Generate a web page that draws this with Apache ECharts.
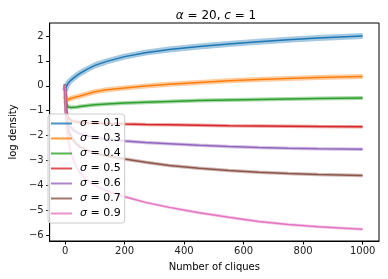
<!DOCTYPE html>
<html>
<head>
<meta charset="utf-8">
<script src="https://cdn.jsdelivr.net/npm/echarts@6/dist/echarts.min.js"></script>
<style>html,body{margin:0;padding:0;background:#fff}#c{width:388px;height:279px}</style>
</head>
<body>
<div id="c"></div>
<script>
const xs = [0, 3, 6, 10, 15, 20, 30, 40, 50, 70, 100, 140, 200, 270, 350, 450, 550, 650, 750, 850, 1000];
const sigmas = ['0.1', '0.3', '0.4', '0.5', '0.6', '0.7', '0.9'];
const s01 = [-0.2, -0.05, 0.02, 0.1, 0.17, 0.23, 0.33, 0.42, 0.5, 0.64, 0.82, 0.98, 1.17, 1.33, 1.46, 1.58, 1.68, 1.77, 1.85, 1.92, 2.0];
const s03 = [-0.41, -0.5, -0.56, -0.56, -0.52, -0.5, -0.47, -0.44, -0.41, -0.34, -0.24, -0.16, -0.09, -0.01, 0.06, 0.13, 0.2, 0.25, 0.29, 0.33, 0.37];
const s04 = [-0.6, -0.72, -0.8, -0.85, -0.87, -0.87, -0.86, -0.85, -0.83, -0.8, -0.76, -0.73, -0.69, -0.66, -0.63, -0.59, -0.57, -0.55, -0.53, -0.51, -0.49];
const s05 = [0.05, -0.9, -1.15, -1.28, -1.35, -1.39, -1.43, -1.45, -1.46, -1.48, -1.49, -1.51, -1.53, -1.55, -1.56, -1.58, -1.6, -1.61, -1.62, -1.63, -1.64];
const s06 = [0.05, -1.0, -1.3, -1.5, -1.62, -1.7, -1.8, -1.87, -1.92, -2.0, -2.08, -2.15, -2.22, -2.28, -2.33, -2.39, -2.44, -2.48, -2.51, -2.53, -2.55];
const s07 = [0.05, -1.0, -1.4, -1.7, -1.9, -2.05, -2.22, -2.35, -2.45, -2.57, -2.7, -2.82, -2.94, -3.07, -3.2, -3.31, -3.4, -3.47, -3.52, -3.56, -3.6];
const s09 = [0.05, -1.2, -1.7, -2.1, -2.45, -2.7, -3.05, -3.3, -3.5, -3.75, -4.0, -4.22, -4.45, -4.68, -4.88, -5.1, -5.28, -5.45, -5.57, -5.66, -5.76];
const xTicks = [0, 200, 400, 600, 800, 1000];
const yTicks = [-6, -5, -4, -3, -2, -1, 0, 1, 2];

const allSeries = [s01, s03, s04, s05, s06, s07, s09];
const colors = ['#1f77b4', '#ff7f0e', '#2ca02c', '#d62728', '#9467bd', '#8c564b', '#e377c2'];
const bandWidths = [6, 5, 4, 3.5, 3.5, 3.5, 3];
const FONT = 'DejaVu Sans';
const minus = v => String(v).replace('-', '\u2212');

const series = [];
allSeries.forEach((arr, i) => {
  const data = xs.map((x, j) => [x, arr[j]]);
  series.push({
    name: 'band' + i, type: 'line', data, symbol: 'none', silent: true,
    lineStyle: { color: colors[i], width: bandWidths[i], opacity: 0.4 }, z: 2
  });
  series.push({
    name: 'σ=' + sigmas[i], type: 'line', data, symbol: 'none',
    itemStyle: { color: colors[i] },
    lineStyle: { color: colors[i], width: 1.5 }, z: 3
  });
});

const chart = echarts.init(document.getElementById('c'), null, { renderer: 'canvas' });
chart.setOption({
  animation: false,
  backgroundColor: '#fff',
  title: {
    text: '{i|α} = 20, {i|c} = 1',
    left: 211, top: 5, textAlign: 'center',
    textStyle: {
      fontFamily: FONT, fontSize: 12, fontWeight: 'normal', color: '#000',
      rich: { i: { fontFamily: FONT, fontSize: 12, fontStyle: 'italic', color: '#000' } }
    }
  },
  grid: { left: 43, right: 9, top: 23, bottom: 38, show: true, borderColor: '#000', borderWidth: 1, containLabel: false },
  xAxis: {
    type: 'value', min: -52, max: 1055,
    name: 'Number of cliques', nameLocation: 'middle', nameGap: 21,
    nameTextStyle: { fontFamily: FONT, fontSize: 10, color: '#000' },
    axisLine: { show: true, onZero: false, lineStyle: { color: '#000', width: 1 } },
    axisTick: { show: true, length: 3.5, customValues: xTicks, lineStyle: { color: '#000' } },
    axisLabel: { customValues: xTicks, fontFamily: FONT, fontSize: 10, color: '#222', margin: 5, formatter: v => String(v) },
    splitLine: { show: false }
  },
  yAxis: {
    type: 'value', min: -6.23, max: 2.52,
    name: 'log density', nameLocation: 'middle', nameGap: 27, nameRotate: 90,
    nameTextStyle: { fontFamily: FONT, fontSize: 10, color: '#000' },
    axisLine: { show: true, onZero: false, lineStyle: { color: '#000', width: 1 } },
    axisTick: { show: true, length: 3.5, customValues: yTicks, lineStyle: { color: '#000' } },
    axisLabel: { customValues: yTicks, fontFamily: FONT, fontSize: 10, color: '#222', margin: 6, formatter: v => minus(v) },
    splitLine: { show: false }
  },
  legend: {
    data: sigmas.map(s => 'σ=' + s),
    orient: 'vertical', left: 48, top: 114,
    padding: [4, 4, 4, 3], itemGap: 4, itemWidth: 21, itemHeight: 2, icon: 'rect',
    backgroundColor: 'rgba(255,255,255,0.8)', borderColor: '#ccc', borderWidth: 1, borderRadius: 3,
    itemStyle: { opacity: 0.8 },
    formatter: name => '{i|σ} = ' + name.split('=')[1],
    textStyle: {
      fontFamily: FONT, fontSize: 11, color: '#000',
      rich: { i: { fontFamily: FONT, fontSize: 11, fontStyle: 'italic', color: '#000', padding: [0, 0, 0, 3] } }
    }
  },
  series
});
</script>
</body>
</html>
